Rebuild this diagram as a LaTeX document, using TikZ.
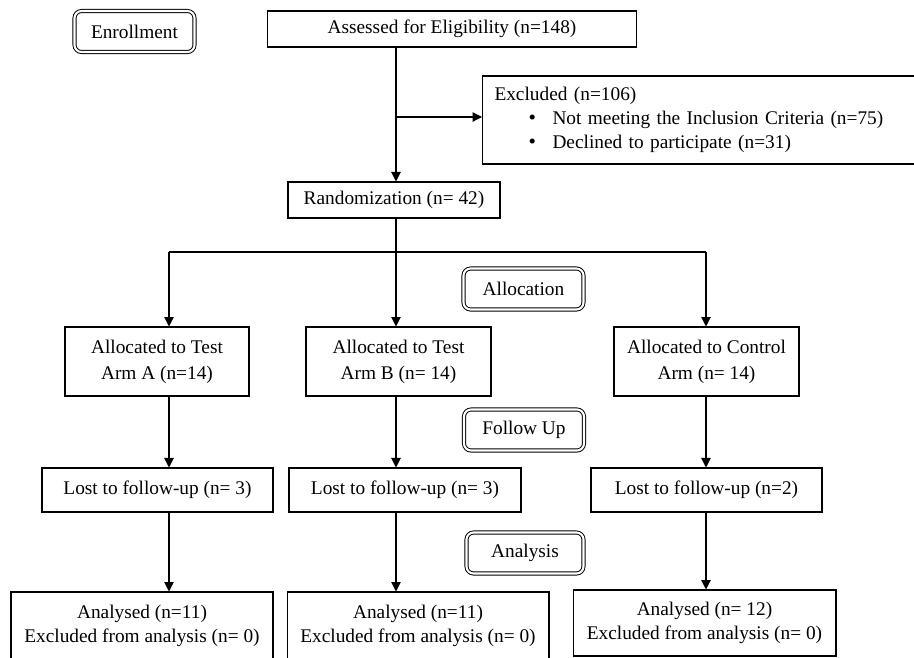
\documentclass[tikz,border=0pt]{standalone}
\usepackage{fontspec}
\setmainfont{Liberation Serif}
\usetikzlibrary{arrows.meta}

\tikzset{
  box/.style={draw, line width=.6pt, align=center, inner sep=0pt},
  phase/.style={draw, double, double distance=1.2pt, line width=.55pt, rounded corners=4pt,
    inner sep=0pt, minimum width=2.4cm, minimum height=.82cm},
  arr/.style={line width=.6pt, -{Triangle[length=5.4pt,width=5.4pt]}}
}

\begin{document}
\begin{tikzpicture}[x=.02cm,y=-.02cm,font=\fontsize{11}{14.7}\selectfont]
\useasboundingbox (0,0) rectangle (914,657);

% stage labels
\node[phase] (enrol) at (134.5,31.5) {Enrollment};
\node[phase] (alloc) at (523.5,289) {Allocation};
\node[phase] (follow) at (524,430) {Follow Up};
\node[phase,minimum width=2.34cm] (analysis) at (525,553) {Analysis};

% enrollment
\node[box,minimum width=7.4cm,minimum height=.72cm] (assess) at (452,29) {Assessed for Eligibility (n=148)};
\node[box,anchor=west,align=left,text width=8.28cm,inner xsep=.24cm,minimum height=1.76cm,
  font=\fontsize{11}{13.5}\selectfont] (excl) at (482,120)
  {Excluded (n=106)\\
   \hspace*{.68cm}\makebox[.48cm][l]{\large\textbullet}Not meeting the Inclusion Criteria (n=75)\\
   \hspace*{.68cm}\makebox[.48cm][l]{\large\textbullet}Declined to participate (n=31)};
\node[box,minimum width=4.24cm,minimum height=.72cm] (rand) at (394,200) {Randomization (n= 42)};

% allocation
\node[box,minimum width=3.68cm,minimum height=1.38cm] (armA) at (157,361.5) {Allocated to Test\\Arm A (n=14)};
\node[box,minimum width=3.7cm,minimum height=1.38cm] (armB) at (398.5,361.5) {Allocated to Test\\Arm B (n= 14)};
\node[box,minimum width=3.7cm,minimum height=1.38cm] (armC) at (706.5,361.5) {Allocated to Control\\Arm (n= 14)};

% follow up
\node[box,minimum width=4.62cm,minimum height=.88cm] (lostA) at (157.5,490) {Lost to follow-up (n= 3)};
\node[box,minimum width=4.64cm,minimum height=.88cm] (lostB) at (405,490) {Lost to follow-up (n= 3)};
\node[box,minimum width=4.62cm,minimum height=.88cm] (lostC) at (706.5,490) {Lost to follow-up (n=2)};

% analysis
\node[box,minimum width=5.24cm,minimum height=1.36cm,font=\fontsize{11}{14}\selectfont] (anA) at (142,626) {Analysed (n=11)\\Excluded from analysis (n= 0)};
\node[box,minimum width=5.24cm,minimum height=1.36cm,font=\fontsize{11}{14}\selectfont] (anB) at (418,626) {Analysed (n=11)\\Excluded from analysis (n= 0)};
\node[box,minimum width=5.26cm,minimum height=1.32cm,font=\fontsize{11}{14}\selectfont] (anC) at (704.5,623) {Analysed (n= 12)\\Excluded from analysis (n= 0)};

% connectors
\coordinate (split) at (396,117);
\draw[arr] (assess.south -| split) -- (rand.north -| split);
\draw[arr] (split) -- (excl.west |- split);

\foreach \n/\x in {A/169,B/396,C/706}
{
  \coordinate (c\n) at (\x,252);
  \draw[arr] (c\n) -- (arm\n.north -| c\n);
  \draw[arr] (arm\n.south -| c\n) -- (lost\n.north -| c\n);
  \draw[arr] (lost\n.south -| c\n) -- (an\n.north -| c\n);
}
\draw[line width=.6pt] (rand.south -| cB) -- (cB);
\draw[line width=.6pt] (cA) -- (cC);

\end{tikzpicture}
\end{document}
